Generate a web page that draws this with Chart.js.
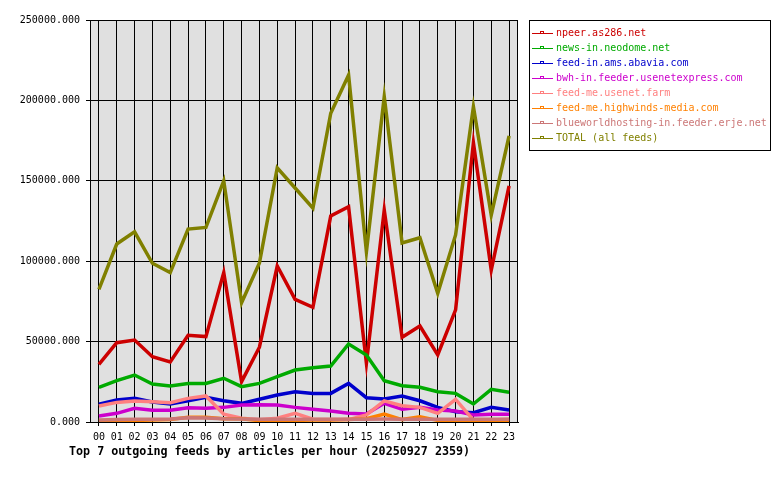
<!DOCTYPE html>
<html>
<head>
<meta charset="utf-8">
<script src="https://cdn.jsdelivr.net/npm/chart.js@4/dist/chart.umd.min.js"></script>
<style>
  body { margin: 0; background: #fff; }
  canvas { display: block; }
</style>
</head>
<body>
<canvas id="feeds" width="780" height="480"></canvas>
<script>
// hours of the day
const hours = ['00','01','02','03','04','05','06','07','08','09','10','11',
               '12','13','14','15','16','17','18','19','20','21','22','23'];

// articles per hour, per feed
const npeer      = [35900, 49300, 51000, 40600, 37300, 53900, 53100, 92900, 25100, 46500, 97000, 76300,
                    71300, 128100, 133900, 36500, 131800, 52700, 59700, 41700, 69700, 173700, 94500, 146800];
const neodome    = [21600, 25700, 29200, 23600, 22400, 24000, 24000, 27200, 22000, 24000, 28200, 32300,
                    33800, 34800, 48500, 41700, 25700, 22600, 21600, 18800, 17800, 11200, 20300, 18500];
const abavia     = [11000, 13700, 14700, 12400, 11200, 13200, 15300, 13200, 11600, 14100, 16800, 18800,
                    17800, 17800, 24000, 15100, 14300, 16200, 13200, 9100, 6400, 5800, 9100, 7500];
const usenetexpr = [3700, 5400, 8500, 7300, 7300, 8900, 8500, 9100, 10600, 10800, 10600, 9100,
                    7900, 6800, 5400, 5000, 11600, 7900, 9100, 7500, 6800, 4400, 4800, 4800];
const usenetFarm = [10000, 12200, 13100, 12600, 12000, 14700, 16200, 4800, 2300, 1400, 2300, 5400,
                    1700, 1500, 1500, 4400, 13100, 10100, 9100, 5400, 14100, 1200, 1200, 1700];
const highwinds  = [800, 800, 1000, 1200, 1500, 2900, 2900, 2000, 2000, 800, 800, 1000,
                    1200, 1200, 1500, 2000, 4900, 1500, 3300, 1000, 600, 500, 500, 500];
const erje       = [1200, 1500, 1700, 1700, 1800, 2700, 2500, 2000, 1800, 1700, 1700, 1700,
                    1700, 1700, 1700, 1700, 1800, 1700, 1700, 1700, 1700, 1700, 1700, 1700];
const total      = [82500, 110700, 118300, 98700, 92900, 120000, 121000, 150000, 74200, 98900, 158000, 145500,
                    133000, 192000, 215800, 105900, 202300, 111300, 114600, 80000, 116300, 196100, 128700, 177900];

const feedNames = ['npeer.as286.net', 'news-in.neodome.net', 'feed-in.ams.abavia.com',
                   'bwh-in.feeder.usenetexpress.com', 'feed-me.usenet.farm',
                   'feed-me.highwinds-media.com', 'blueworldhosting-in.feeder.erje.net',
                   'TOTAL (all feeds)'];
const feedColors = ['#cc0000', '#00aa00', '#0000cc', '#cc00cc', '#ff8080', '#ff8000', '#cc7777', '#808000'];
const feedValues = [npeer, neodome, abavia, usenetexpr, usenetFarm, highwinds, erje, total];

const titleText = 'Top 7 outgoing feeds by articles per hour (20250927 2359)';
const MONO = '"DejaVu Sans Mono", "Liberation Mono", monospace';

// grey plot background + frame
const plotFrame = {
  id: 'plotFrame',
  beforeDraw(chart) {
    const a = chart.chartArea, ctx = chart.ctx;
    ctx.save();
    ctx.fillStyle = '#e0e0e0';
    ctx.fillRect(a.left, a.top, a.right - a.left, a.bottom - a.top);
    ctx.restore();
  },
  afterDraw(chart) {
    const a = chart.chartArea, ctx = chart.ctx;
    ctx.save();
    ctx.strokeStyle = '#000';
    ctx.lineWidth = 1;
    ctx.strokeRect(a.left + 0.5, a.top + 0.5, a.right - a.left - 1, a.bottom - a.top);
    ctx.restore();
  }
};

// boxed legend on the right, text in the series colour
const boxLegend = {
  id: 'boxLegend',
  afterDraw(chart) {
    const ctx = chart.ctx;
    ctx.save();
    ctx.fillStyle = '#fff';
    ctx.fillRect(529, 20, 241, 130);
    ctx.strokeStyle = '#000';
    ctx.lineWidth = 1;
    ctx.strokeRect(529.5, 20.5, 241, 130);
    ctx.font = '10px ' + MONO;
    ctx.textBaseline = 'middle';
    chart.data.datasets.forEach((ds, i) => {
      const y = 33 + i * 15;
      ctx.fillStyle = ds.borderColor;
      // sample line with its little marker
      ctx.fillRect(532, y, 21, 1);
      ctx.fillRect(540, y - 2, 4, 1);
      ctx.fillRect(540, y - 2, 1, 2);
      ctx.fillRect(543, y - 2, 1, 2);
      ctx.fillText(ds.label, 556, y);
    });
    ctx.restore();
  }
};

// caption under the graph
const bottomTitle = {
  id: 'bottomTitle',
  afterDraw(chart) {
    const ctx = chart.ctx;
    ctx.save();
    ctx.font = 'bold 11.7px ' + MONO;
    ctx.fillStyle = '#000';
    ctx.textBaseline = 'middle';
    ctx.fillText(titleText, 69, 452);
    ctx.restore();
  }
};

new Chart(document.getElementById('feeds'), {
  type: 'line',
  data: {
    labels: hours,
    datasets: feedNames.map((name, i) => ({
      label: name,
      data: feedValues[i],
      borderColor: feedColors[i],
      backgroundColor: feedColors[i],
      borderWidth: 3.5,
      pointRadius: 0,
      tension: 0,
      fill: false,
      order: feedNames.length - i
    }))
  },
  options: {
    responsive: false,
    animation: false,
    layout: { padding: { left: 0, right: 262, top: 20, bottom: 30 } },
    plugins: {
      legend: { display: false },
      title: { display: false },
      tooltip: { enabled: false }
    },
    scales: {
      x: {
        type: 'category',
        offset: true,
        afterFit(scale) { scale.height = 28; },
        grid: { color: '#000', lineWidth: 1, tickLength: 4, offset: false },
        border: { color: '#000' },
        ticks: {
          color: '#000',
          font: { family: MONO, size: 10 },
          padding: 5,
          maxRotation: 0,
          autoSkip: false
        }
      },
      y: {
        min: 0,
        max: 250000,
        afterFit(scale) { scale.width = 90; },
        grid: { color: '#000', lineWidth: 1, tickLength: 4 },
        border: { color: '#000' },
        ticks: {
          stepSize: 50000,
          color: '#000',
          font: { family: MONO, size: 10 },
          padding: 6,
          callback: v => v.toFixed(3)
        }
      }
    }
  },
  plugins: [plotFrame, boxLegend, bottomTitle]
});
</script>
</body>
</html>
